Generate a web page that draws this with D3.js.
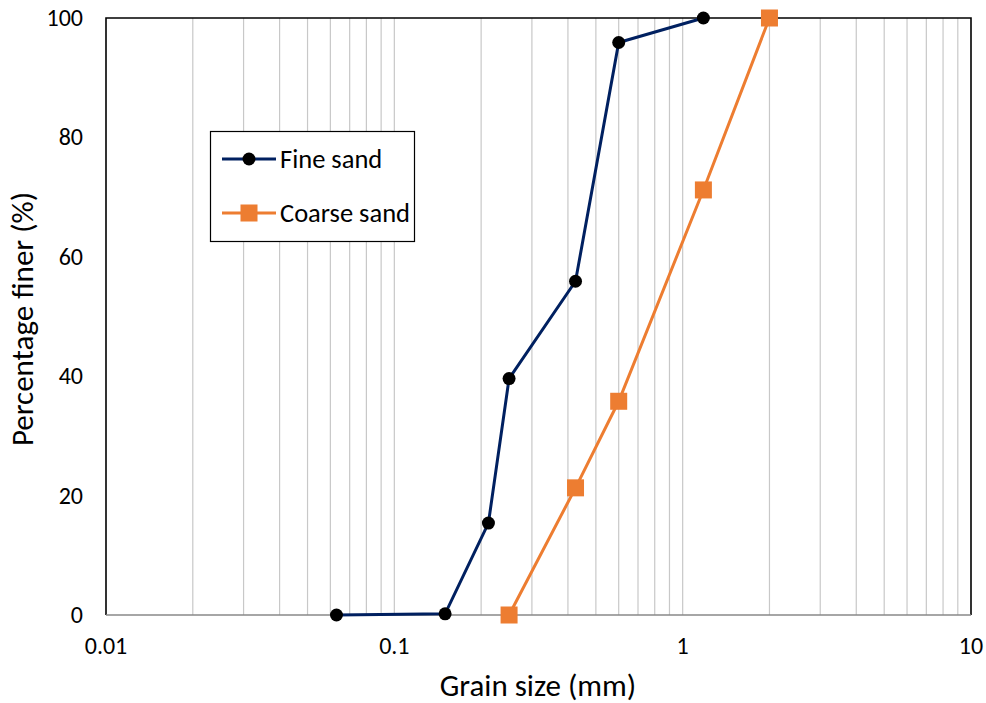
<!DOCTYPE html>
<html>
<head>
<meta charset="utf-8">
<script src="https://cdn.jsdelivr.net/npm/d3@7"></script>
<style>
  body { margin: 0; background: #fff; }
  svg text { font-family: Carlito, Lato, "Open Sans", sans-serif; fill: #000; }
</style>
</head>
<body>
<svg id="chart" width="986" height="703"></svg>
<script>
// Sieve analysis: grain size (mm) vs percentage finer
const fineSize = [0.063, 0.15, 0.212, 0.25, 0.425, 0.6, 1.18];
const fineFiner = [0, 0.2, 15.4, 39.6, 55.9, 95.9, 100];
const coarseSize = [0.25, 0.425, 0.6, 1.18, 2.0];
const coarseFiner = [0, 21.3, 35.8, 71.2, 100];
const xTicks = [0.01, 0.1, 1, 10];
const yTicks = [0, 20, 40, 60, 80, 100];
const seriesNames = ["Fine sand", "Coarse sand"];

const svg = d3.select("#chart");
const plotL = 106, plotR = 971, plotT = 18, plotB = 615;

const x = d3.scaleLog().domain([0.01, 10]).range([plotL, plotR]);
const y = d3.scaleLinear().domain([0, 100]).range([plotB, plotT]);

// vertical gridlines at every 1..9 within each decade
const grid = [];
for (let e = -2; e < 1; e++) {
  for (let k = 1; k <= 9; k++) grid.push(k * Math.pow(10, e));
}
svg.append("g").selectAll("line").data(grid.filter(v => v > 0.0101 && v < 9.99)).join("line")
  .attr("x1", d => x(d)).attr("x2", d => x(d))
  .attr("y1", plotT).attr("y2", plotB)
  .attr("stroke", "#c8c8c8").attr("stroke-width", 1.2);

// frame: black top/left/right, gray bottom axis
svg.append("path")
  .attr("d", `M${plotL},${plotB} V${plotT} H${plotR} V${plotB}`)
  .attr("fill", "none").attr("stroke", "#000").attr("stroke-width", 1.6);
svg.append("line")
  .attr("x1", plotL).attr("x2", plotR).attr("y1", plotB).attr("y2", plotB)
  .attr("stroke", "#888").attr("stroke-width", 1.6);

// tick labels
svg.append("g").selectAll("text").data(yTicks).join("text")
  .attr("x", plotL - 23).attr("y", d => y(d)).attr("dy", "0.33em")
  .attr("text-anchor", "end").style("font-size", "24px")
  .text(d => d3.format("d")(d));

svg.append("g").selectAll("text").data(xTicks).join("text")
  .attr("x", d => x(d)).attr("y", plotB + 39)
  .attr("text-anchor", "middle").style("font-size", "24px")
  .text(d => String(d));

// axis titles
svg.append("text").attr("x", 538).attr("y", 696)
  .attr("text-anchor", "middle").style("font-size", "31px").text("Grain size (mm)");
svg.append("text").attr("transform", `translate(33,319) rotate(-90)`)
  .attr("text-anchor", "middle").style("font-size", "31px").text("Percentage finer (%)");

const line = d3.line().x(d => x(d[0])).y(d => y(d[1]));
const fine = fineSize.map((s, i) => [s, fineFiner[i]]);
const coarse = coarseSize.map((s, i) => [s, coarseFiner[i]]);

svg.append("path").datum(fine).attr("d", line)
  .attr("fill", "none").attr("stroke", "#002060").attr("stroke-width", 3);
svg.append("g").selectAll("circle").data(fine).join("circle")
  .attr("cx", d => x(d[0])).attr("cy", d => y(d[1])).attr("r", 6.5).attr("fill", "#000");

svg.append("path").datum(coarse).attr("d", line)
  .attr("fill", "none").attr("stroke", "#ED7D31").attr("stroke-width", 3);
const sq = 17;
svg.append("g").selectAll("rect").data(coarse).join("rect")
  .attr("x", d => x(d[0]) - sq / 2).attr("y", d => y(d[1]) - sq / 2)
  .attr("width", sq).attr("height", sq).attr("fill", "#ED7D31");

// legend
const lg = svg.append("g");
lg.append("rect").attr("x", 210.5).attr("y", 131.5).attr("width", 204).attr("height", 110)
  .attr("fill", "#fff").attr("stroke", "#000").attr("stroke-width", 1.2);
const items = [
  { name: seriesNames[0], color: "#002060", shape: "circle", cy: 159 },
  { name: seriesNames[1], color: "#ED7D31", shape: "square", cy: 213 }
];
items.forEach(it => {
  lg.append("line").attr("x1", 222).attr("x2", 276).attr("y1", it.cy).attr("y2", it.cy)
    .attr("stroke", it.color).attr("stroke-width", 3);
  if (it.shape === "circle") {
    lg.append("circle").attr("cx", 249).attr("cy", it.cy).attr("r", 6.5).attr("fill", "#000");
  } else {
    lg.append("rect").attr("x", 249 - sq / 2).attr("y", it.cy - sq / 2)
      .attr("width", sq).attr("height", sq).attr("fill", it.color);
  }
  lg.append("text").attr("x", 280).attr("y", it.cy).attr("dy", "0.35em")
    .style("font-size", "26.5px").text(it.name);
});
</script>
</body>
</html>
